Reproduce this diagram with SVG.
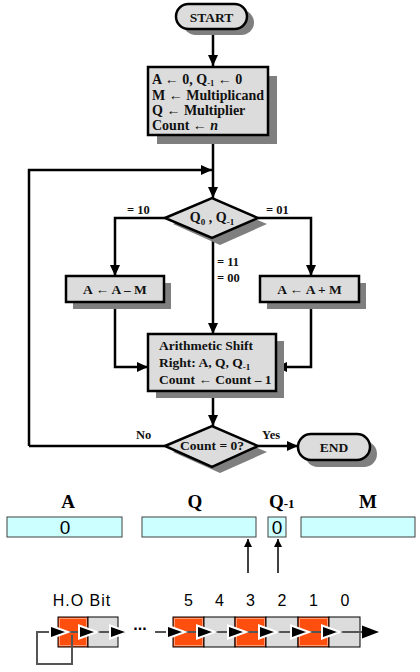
<svg xmlns="http://www.w3.org/2000/svg" width="420" height="672" viewBox="0 0 420 672">
<style>
.box{fill:#dcdcdc;stroke:#000;stroke-width:2.5}
.sh{fill:#7f7f7f}
.t{font-family:"Liberation Serif",serif;font-weight:bold;font-size:13.5px;fill:#111}
.ti{font-family:"Liberation Serif",serif;font-weight:bold;font-size:14px;fill:#111}
.lbl{font-family:"Liberation Serif",serif;font-weight:bold;font-size:12.5px;fill:#111}
.flow{fill:none;stroke:#000;stroke-width:2.5}
.reg{fill:#ccffff;stroke:#404040;stroke-width:1}
.rl{font-family:"Liberation Serif",serif;font-weight:bold;font-size:19px;fill:#000}
.rv{font-family:"Liberation Sans",Arial,sans-serif;font-size:19px;fill:#000}
.bl{font-family:"Liberation Sans",Arial,sans-serif;font-size:16px;fill:#000}
.or{fill:#ff4f0f;stroke:#000;stroke-width:1}
.oi{fill:none;stroke:#ff9a78;stroke-width:1}
.gr{fill:#dcdcdc;stroke:#000;stroke-width:1}
.ah{fill:#000;stroke:#fff;stroke-width:2;stroke-linejoin:miter}
.cl{fill:none;stroke:#555;stroke-width:2}
</style>
<defs>
<marker id="arr" markerUnits="userSpaceOnUse" markerWidth="11" markerHeight="10" refX="11" refY="5" orient="auto">
<path d="M0,0 L11,5 L0,10 z" fill="#000"/>
</marker>
<marker id="sarr" markerUnits="userSpaceOnUse" markerWidth="8" markerHeight="8" refX="8" refY="4" orient="auto">
<path d="M0,0 L8,4 L0,8 z" fill="#000"/>
</marker>
</defs>

<g id="connectors">
<path class="flow" d="M213,29 L213,66" marker-end="url(#arr)"/>
<path class="flow" d="M213,135 L213,198" marker-end="url(#arr)"/>
<path class="flow" d="M29,446 L29,170 L212,170" marker-end="url(#arr)"/>
<path class="flow" d="M165,218 L115,218 L115,276" marker-end="url(#arr)"/>
<path class="flow" d="M258,218 L311,218 L311,276" marker-end="url(#arr)"/>
<path class="flow" d="M213,238 L213,334" marker-end="url(#arr)"/>
<path class="flow" d="M115,302 L115,367 L148,367" marker-end="url(#arr)"/>
<path class="flow" d="M311,302 L311,367 L276,367" marker-end="url(#arr)"/>
<path class="flow" d="M213,391 L213,426" marker-end="url(#arr)"/>
<path class="flow" d="M165,446 L29,446"/>
<path class="flow" d="M258,446 L298,446" marker-end="url(#arr)"/>
<text class="lbl" x="127" y="214">= 10</text>
<text class="lbl" x="266" y="214">= 01</text>
<text class="lbl" x="217" y="266">= 11</text>
<text class="lbl" x="217" y="282">= 00</text>
<text class="lbl" x="136" y="439">No</text>
<text class="lbl" x="262" y="439">Yes</text>
</g>

<g id="start">
<rect class="sh" x="183" y="10" width="71" height="25" rx="12.5"/>
<rect class="box" x="176" y="4" width="71" height="25" rx="12.5"/>
<text class="t" x="211.5" y="21.5" text-anchor="middle">START</text>
</g>

<g id="init">
<rect class="sh" x="157" y="76" width="120" height="68"/>
<rect class="box" x="148" y="67" width="120" height="68"/>
<text class="ti" x="152" y="84">A ← 0, Q<tspan font-size="8.5" dy="2">-1</tspan><tspan dy="-2"> ← 0</tspan></text>
<text class="ti" x="152" y="100">M ← Multiplicand</text>
<text class="ti" x="152" y="115">Q ← Multiplier</text>
<text class="ti" x="152" y="130">Count ← <tspan font-style="italic">n</tspan></text>
</g>

<g id="decision1">
<path class="sh" d="M173,224 L220,204 L267,224 L220,245 z"/>
<path class="box" d="M165,218 L212,198 L258,218 L212,238 z"/>
<text class="ti" x="212" y="222" text-anchor="middle">Q<tspan font-size="9" dy="3">0</tspan><tspan dy="-3"> , Q</tspan><tspan font-size="9" dy="3">-1</tspan></text>
</g>

<g id="sub">
<rect class="sh" x="73" y="283" width="98" height="26"/>
<rect class="box" x="66" y="276" width="98" height="26"/>
<text class="t" x="115" y="294" text-anchor="middle">A ← A – M</text>
</g>

<g id="add">
<rect class="sh" x="267" y="283" width="99" height="26"/>
<rect class="box" x="260" y="276" width="99" height="26"/>
<text class="t" x="309.5" y="294" text-anchor="middle">A ← A + M</text>
</g>

<g id="shift">
<rect class="sh" x="156" y="341" width="128" height="57"/>
<rect class="box" x="148" y="334" width="128" height="57"/>
<text class="t" x="159" y="350">Arithmetic Shift</text>
<text class="t" x="159" y="367">Right: A, Q, Q<tspan font-size="9" dy="3">-1</tspan></text>
<text class="t" x="159" y="384">Count ← Count – 1</text>
</g>

<g id="decision2">
<path class="sh" d="M173,452 L220,432 L267,452 L220,473 z"/>
<path class="box" d="M165,446 L212,426 L258,446 L212,467 z"/>
<text class="t" x="212" y="450" text-anchor="middle">Count = 0?</text>
</g>

<g id="end">
<rect class="sh" x="305" y="441" width="72" height="26" rx="13"/>
<rect class="box" x="298" y="434" width="72" height="26" rx="13"/>
<text class="t" x="334" y="451.5" text-anchor="middle">END</text>
</g>

<g id="registers">
<text class="rl" x="68" y="508" text-anchor="middle">A</text>
<text class="rl" x="195" y="508" text-anchor="middle">Q</text>
<text class="rl" x="269" y="508">Q<tspan font-size="13">-1</tspan></text>
<text class="rl" x="368" y="508" text-anchor="middle">M</text>
<rect class="reg" x="7" y="517" width="115" height="20"/>
<rect class="reg" x="142" y="517" width="114" height="20"/>
<rect class="reg" x="268" y="517" width="18" height="20"/>
<rect class="reg" x="301" y="517" width="114" height="20"/>
<text class="rv" x="65" y="534" text-anchor="middle">0</text>
<text class="rv" x="277" y="534" text-anchor="middle">0</text>
<path d="M248,573 L248,539" stroke="#000" stroke-width="1.5" marker-end="url(#sarr)"/>
<path d="M278,573 L278,539" stroke="#000" stroke-width="1.5" marker-end="url(#sarr)"/>
</g>

<g id="bits">
<text class="bl" x="82" y="606" text-anchor="middle" letter-spacing="1">H.O Bit</text>
<text class="bl" x="188.5" y="606" text-anchor="middle">5</text>
<text class="bl" x="219.5" y="606" text-anchor="middle">4</text>
<text class="bl" x="250.5" y="606" text-anchor="middle">3</text>
<text class="bl" x="282" y="606" text-anchor="middle">2</text>
<text class="bl" x="313.5" y="606" text-anchor="middle">1</text>
<text class="bl" x="345" y="606" text-anchor="middle">0</text>
<rect class="or" x="58" y="617" width="30" height="30"/>
<rect class="oi" x="59.5" y="618.5" width="27" height="27"/>
<rect class="gr" x="88" y="617" width="30" height="30"/>
<rect class="or" x="173" y="617" width="31" height="30"/>
<rect class="oi" x="174.5" y="618.5" width="28" height="27"/>
<rect class="gr" x="204" y="617" width="31" height="30"/>
<rect class="or" x="235" y="617" width="31" height="30"/>
<rect class="oi" x="236.5" y="618.5" width="28" height="27"/>
<rect class="gr" x="266" y="617" width="32" height="30"/>
<rect class="or" x="298" y="617" width="31" height="30"/>
<rect class="oi" x="299.5" y="618.5" width="28" height="27"/>
<rect class="gr" x="329" y="617" width="31" height="30"/>
<text x="140" y="630" text-anchor="middle" font-family="Liberation Sans,Arial,sans-serif" font-size="16" font-weight="bold">...</text>
<path class="cl" d="M72,635 L72,664 L37,664 L37,632 L51,632"/>
<path class="cl" d="M68,632 L80,632 M97,632 L111,632 M155,632 L168,632 M185,632 L198,632 M215,632 L229,632 M246,632 L260,632 M277,632 L292,632 M309,632 L323,632 M340,632 L372,632"/>
<path class="ah" d="M50,625.5 L68,632 L50,638.5 z"/>
<path class="ah" d="M79,625.5 L97,632 L79,638.5 z"/>
<path class="ah" d="M110,625.5 L128,632 L110,638.5 z"/>
<path class="ah" d="M167,625.5 L185,632 L167,638.5 z"/>
<path class="ah" d="M197,625.5 L215,632 L197,638.5 z"/>
<path class="ah" d="M228,625.5 L246,632 L228,638.5 z"/>
<path class="ah" d="M259,625.5 L277,632 L259,638.5 z"/>
<path class="ah" d="M291,625.5 L309,632 L291,638.5 z"/>
<path class="ah" d="M322,625.5 L340,632 L322,638.5 z"/>
<path d="M362,625.5 L379,632 L362,638.5 z" fill="#000"/>
</g>
</svg>
